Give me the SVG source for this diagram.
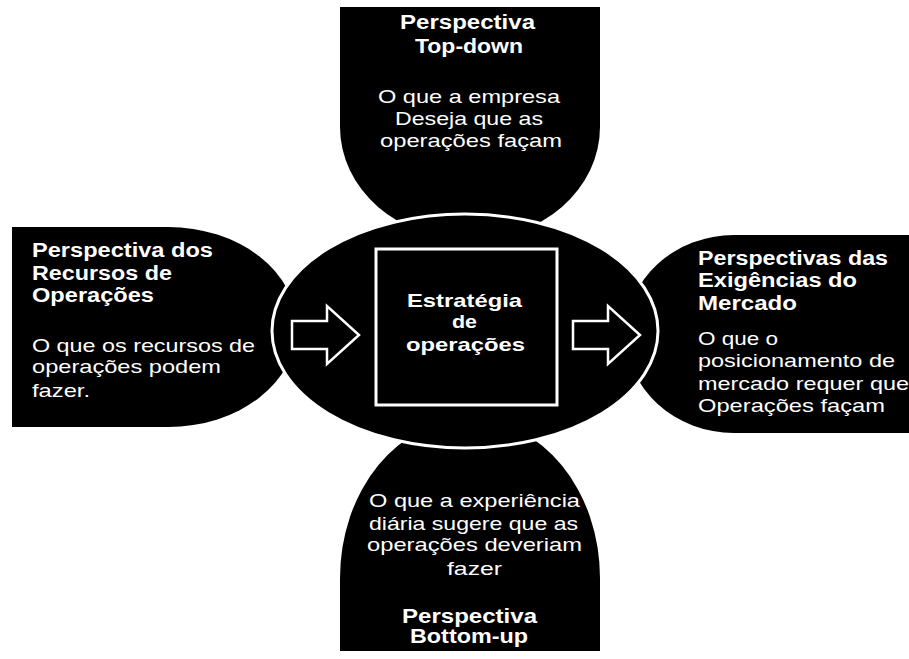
<svg xmlns="http://www.w3.org/2000/svg" width="909" height="659" viewBox="0 0 909 659">
  <style>
    .shape { fill: #000; }
    .hub { fill: #000; stroke: #fff; stroke-width: 3; }
    .core { fill: #000; stroke: #fff; stroke-width: 3; }
    .arrow { fill: #000; stroke: #fff; stroke-width: 2.5; stroke-linejoin: miter; }
    text { fill: #fff; font-family: "Liberation Sans", Arial, sans-serif; }
    .h { font-size: 20px; font-weight: bold; }
    .b { font-size: 18.5px; }
    .c { font-size: 18.5px; font-weight: bold; }
  </style>
  <rect width="909" height="659" fill="#fff"/>

  <!-- top perspective: flat top, rounded bottom -->
  <g id="top-down">
    <path class="shape" d="M340,7 H600 V127 A130,113 0 0 1 340,127 Z"/>
    <text class="h" x="400" y="29" textLength="135" lengthAdjust="spacingAndGlyphs">Perspectiva</text>
    <text class="h" x="415" y="53" textLength="108" lengthAdjust="spacingAndGlyphs">Top-down</text>
    <text class="b" x="378" y="103" textLength="182" lengthAdjust="spacingAndGlyphs">O que a empresa</text>
    <text class="b" x="395" y="125" textLength="148" lengthAdjust="spacingAndGlyphs">Deseja que as</text>
    <text class="b" x="380" y="147" textLength="182" lengthAdjust="spacingAndGlyphs">operações façam</text>
  </g>

  <!-- left perspective: flat left, rounded right -->
  <g id="recursos">
    <path class="shape" d="M12,227 H168 A129,100 0 0 1 168,427 H12 Z"/>
    <text class="h" x="32" y="257" textLength="181" lengthAdjust="spacingAndGlyphs">Perspectiva dos</text>
    <text class="h" x="32" y="280" textLength="140" lengthAdjust="spacingAndGlyphs">Recursos de</text>
    <text class="h" x="32" y="302" textLength="122" lengthAdjust="spacingAndGlyphs">Operações</text>
    <text class="b" x="32" y="352" textLength="223" lengthAdjust="spacingAndGlyphs">O que os recursos de</text>
    <text class="b" x="32" y="373" textLength="189" lengthAdjust="spacingAndGlyphs">operações podem</text>
    <text class="b" x="32" y="397" textLength="58" lengthAdjust="spacingAndGlyphs">fazer.</text>
  </g>

  <!-- right perspective: rounded left, runs off the right edge -->
  <g id="mercado">
    <path class="shape" d="M915,235 H734 A108,99 0 0 0 734,433 H915 Z"/>
    <text class="h" x="698" y="265" textLength="190" lengthAdjust="spacingAndGlyphs">Perspectivas das</text>
    <text class="h" x="698" y="287" textLength="159" lengthAdjust="spacingAndGlyphs">Exigências do</text>
    <text class="h" x="698" y="310" textLength="99" lengthAdjust="spacingAndGlyphs">Mercado</text>
    <text class="b" x="698" y="345" textLength="80" lengthAdjust="spacingAndGlyphs">O que o</text>
    <text class="b" x="698" y="367" textLength="197" lengthAdjust="spacingAndGlyphs">posicionamento de</text>
    <text class="b" x="698" y="390" textLength="211" lengthAdjust="spacingAndGlyphs">mercado requer que</text>
    <text class="b" x="698" y="412" textLength="187" lengthAdjust="spacingAndGlyphs">Operações façam</text>
  </g>

  <!-- bottom perspective: rounded top, flat bottom -->
  <g id="bottom-up">
    <path class="shape" d="M340,651 H600 V578 A130,159 0 0 0 340,578 Z"/>
    <text class="b" x="369" y="507" textLength="211" lengthAdjust="spacingAndGlyphs">O que a experiência</text>
    <text class="b" x="369" y="530" textLength="209" lengthAdjust="spacingAndGlyphs">diária sugere que as</text>
    <text class="b" x="367" y="551" textLength="215" lengthAdjust="spacingAndGlyphs">operações deveriam</text>
    <text class="b" x="447" y="575" textLength="55" lengthAdjust="spacingAndGlyphs">fazer</text>
    <text class="h" x="402" y="623" textLength="135" lengthAdjust="spacingAndGlyphs">Perspectiva</text>
    <text class="h" x="410" y="643" textLength="118" lengthAdjust="spacingAndGlyphs">Bottom-up</text>
  </g>

  <!-- central hub with the strategy box -->
  <g id="estrategia">
    <ellipse class="hub" cx="465" cy="331" rx="193" ry="117"/>
    <rect class="core" x="376" y="249" width="181" height="156"/>
    <text class="c" x="407" y="307" textLength="115" lengthAdjust="spacingAndGlyphs">Estratégia</text>
    <text class="c" x="452" y="328" textLength="25" lengthAdjust="spacingAndGlyphs">de</text>
    <text class="c" x="406" y="351" textLength="119" lengthAdjust="spacingAndGlyphs">operações</text>
  </g>

  <!-- block arrows: inputs into the box and output toward the market -->
  <g id="connectors">
    <polygon class="arrow" points="292,321 327,321 327,306 359,335 327,364 327,349 292,349"/>
    <polygon class="arrow" points="573,321 608,321 608,306 640,335 608,364 608,349 573,349"/>
  </g>
</svg>
